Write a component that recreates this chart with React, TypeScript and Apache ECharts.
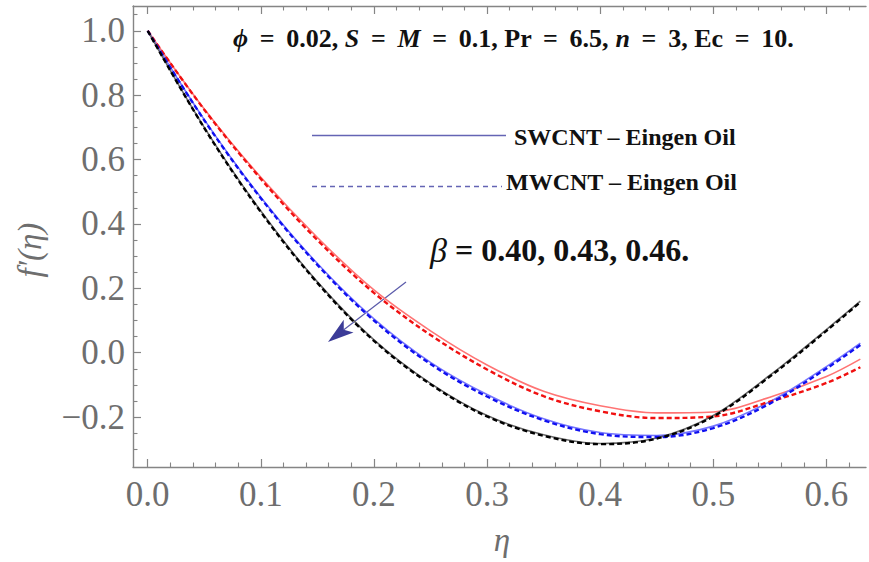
import React, { useEffect, useRef } from "react";
import * as echarts from "echarts";

// η grid (x values) shared by all curves
const etaValues = [0, 0.05, 0.1, 0.15, 0.2, 0.25, 0.3, 0.35, 0.4, 0.45, 0.5, 0.55, 0.6, 0.63];

// f'(η); β = 0.40 (red), 0.43 (blue), 0.46 (black)
const swcntBeta040 = [1, 0.757, 0.545, 0.358, 0.195, 0.068, -0.038, -0.12, -0.165, -0.187, -0.184, -0.138, -0.074, -0.02];
const mwcntBeta040 = [1, 0.755, 0.54, 0.35, 0.186, 0.055, -0.052, -0.135, -0.182, -0.203, -0.198, -0.152, -0.094, -0.045];
const swcntBeta043 = [1, 0.724, 0.483, 0.277, 0.105, -0.03, -0.13, -0.205, -0.248, -0.257, -0.228, -0.152, -0.043, 0.03];
const mwcntBeta043 = [1, 0.722, 0.48, 0.273, 0.1, -0.035, -0.136, -0.21, -0.253, -0.262, -0.234, -0.158, -0.049, 0.024];
const swcntBeta046 = [1, 0.7, 0.44, 0.22, 0.04, -0.095, -0.195, -0.255, -0.282, -0.265, -0.195, -0.07, 0.072, 0.16];
const mwcntBeta046 = [1, 0.698, 0.437, 0.217, 0.037, -0.098, -0.198, -0.258, -0.284, -0.267, -0.198, -0.074, 0.068, 0.157];

// ticks
const xMajorTicks = [0, 0.1, 0.2, 0.3, 0.4, 0.5, 0.6];
const xMinorTicks = [0.02, 0.04, 0.06, 0.08, 0.12, 0.14, 0.16, 0.18, 0.22, 0.24, 0.26, 0.28, 0.32, 0.34, 0.36, 0.38, 0.42, 0.44, 0.46, 0.48, 0.52, 0.54, 0.56, 0.58, 0.62];
const yMajorTicks = [-0.2, 0, 0.2, 0.4, 0.6, 0.8, 1.0];
const yMinorTicks = [-0.3, -0.25, -0.15, -0.1, -0.05, 0.05, 0.1, 0.15, 0.25, 0.3, 0.35, 0.45, 0.5, 0.55, 0.65, 0.7, 0.75, 0.85, 0.9, 0.95, 1.05];

const X_MIN = -0.013;
const X_MAX = 0.635;
const Y_MIN = -0.355;
const Y_MAX = 1.077;

const SERIF = "'Liberation Serif', 'Times New Roman', serif";
const AXIS_GRAY = "#858585";
const LABEL_GRAY = "#6e6e6e";

const fmt = (v: number) => {
  const s = Math.abs(v).toFixed(1);
  return v < -1e-9 ? "\u2212" + s : s;
};

function pairs(ys: number[]) {
  return etaValues.map((x, i) => [x, ys[i]]);
}

export default function App() {
  const ref = useRef<HTMLDivElement>(null);
  useEffect(() => {
    if (!ref.current) return;
    const chart = echarts.init(ref.current, undefined, { renderer: "svg" });

    const baseX = {
      type: "value" as const,
      min: X_MIN,
      max: X_MAX,
      splitLine: { show: false },
    };
    const baseY = {
      type: "value" as const,
      min: Y_MIN,
      max: Y_MAX,
      splitLine: { show: false },
    };
    const line = (show: boolean) => ({
      show,
      onZero: false,
      lineStyle: { color: AXIS_GRAY, width: 1.4 },
    });

    const solid = (name: string, ys: number[], color: string) => ({
      name,
      type: "line",
      data: pairs(ys),
      smooth: 0.35,
      showSymbol: false,
      lineStyle: { color, width: 1.6 },
      z: 2,
    });
    const dashed = (name: string, ys: number[], color: string) => ({
      name,
      type: "line",
      data: pairs(ys),
      smooth: 0.35,
      showSymbol: false,
      lineStyle: { color, width: 2.4, type: [5, 3] },
      z: 3,
    });

    const tip = [328, 342];
    const notch = [343.8, 329.8];
    const c1 = [353.5, 332.4];
    const c2 = [343.7, 319.8];

    chart.setOption({
      animation: false,
      backgroundColor: "#ffffff",
      grid: { left: 133, right: 3, top: 6, bottom: 95, containLabel: false },
      xAxis: [
        {
          ...baseX,
          position: "bottom",
          axisLine: line(true),
          axisTick: { show: true, inside: true, length: 8, customValues: xMajorTicks, lineStyle: { color: AXIS_GRAY, width: 1.2 } },
          axisLabel: {
            show: true,
            customValues: xMajorTicks,
            formatter: (v: number) => fmt(v),
            color: LABEL_GRAY,
            fontSize: 35,
            fontFamily: SERIF,
            margin: 10,
          },
        },
        {
          ...baseX,
          position: "bottom",
          axisLine: line(false),
          axisTick: { show: true, inside: true, length: 4.5, customValues: xMinorTicks, lineStyle: { color: AXIS_GRAY, width: 1.1 } },
          axisLabel: { show: false },
        },
        {
          ...baseX,
          position: "top",
          axisLine: line(true),
          axisTick: { show: true, inside: true, length: 8, customValues: xMajorTicks, lineStyle: { color: AXIS_GRAY, width: 1.2 } },
          axisLabel: { show: false },
        },
        {
          ...baseX,
          position: "top",
          axisLine: line(false),
          axisTick: { show: true, inside: true, length: 4.5, customValues: xMinorTicks, lineStyle: { color: AXIS_GRAY, width: 1.1 } },
          axisLabel: { show: false },
        },
      ],
      yAxis: [
        {
          ...baseY,
          position: "left",
          axisLine: line(true),
          axisTick: { show: true, inside: true, length: 8, customValues: yMajorTicks, lineStyle: { color: AXIS_GRAY, width: 1.2 } },
          axisLabel: {
            show: true,
            customValues: yMajorTicks,
            formatter: (v: number) => fmt(v),
            color: LABEL_GRAY,
            fontSize: 35,
            fontFamily: SERIF,
            margin: 8,
          },
        },
        {
          ...baseY,
          position: "left",
          axisLine: line(false),
          axisTick: { show: true, inside: true, length: 4.5, customValues: yMinorTicks, lineStyle: { color: AXIS_GRAY, width: 1.1 } },
          axisLabel: { show: false },
        },
      ],
      series: [
        solid("SWCNT β=0.40", swcntBeta040, "#ff7474"),
        solid("SWCNT β=0.43", swcntBeta043, "#7474ff"),
        solid("SWCNT β=0.46", swcntBeta046, "#6a6a6a"),
        dashed("MWCNT β=0.40", mwcntBeta040, "#f01010"),
        dashed("MWCNT β=0.43", mwcntBeta043, "#1010f0"),
        dashed("MWCNT β=0.46", mwcntBeta046, "#000000"),
      ],
      graphic: [
        {
          type: "text",
          left: 233,
          top: 25,
          style: {
            text: "{i|\u03d5} \u2009=\u2009 0.02, {i|S} \u2009=\u2009 {i|M} \u2009=\u2009 0.1, Pr \u2009=\u2009 6.5, {i|n} \u2009=\u2009 3, Ec \u2009=\u2009 10.",
            fontFamily: SERIF,
            fontWeight: "bold",
            fontSize: 26,
            fill: "#111",
            rich: {
              i: { fontFamily: SERIF, fontWeight: "bold", fontStyle: "italic", fontSize: 26, fill: "#111" },
            },
          },
        },
        {
          type: "line",
          shape: { x1: 312, y1: 135.5, x2: 506, y2: 135.5 },
          style: { stroke: "#6464b4", lineWidth: 1.5 },
        },
        {
          type: "text",
          left: 514,
          top: 125,
          style: { text: "SWCNT \u2013 Eingen Oil", fontFamily: SERIF, fontWeight: "bold", fontSize: 24, fill: "#111" },
        },
        {
          type: "line",
          shape: { x1: 312, y1: 186.5, x2: 502, y2: 186.5 },
          style: { stroke: "#6464b4", lineWidth: 1.5, lineDash: [5, 4] },
        },
        {
          type: "text",
          left: 506,
          top: 170,
          style: { text: "MWCNT \u2013 Eingen Oil", fontFamily: SERIF, fontWeight: "bold", fontSize: 24, fill: "#111" },
        },
        {
          type: "text",
          left: 430,
          top: 233,
          style: {
            text: "{g|\u03b2} = 0.40, 0.43, 0.46.",
            fontFamily: SERIF,
            fontWeight: "bold",
            fontSize: 32,
            fill: "#111",
            rich: {
              g: { fontFamily: SERIF, fontStyle: "italic", fontWeight: "normal", fontSize: 34, fill: "#111" },
            },
          },
        },
        {
          type: "line",
          shape: { x1: 406, y1: 282, x2: notch[0], y2: notch[1] },
          style: { stroke: "#5a5aaa", lineWidth: 1.2 },
        },
        {
          type: "polygon",
          shape: { points: [tip, c1, notch, c2] },
          style: { fill: "#3c3c98" },
        },
        {
          type: "text",
          x: 30,
          y: 250,
          rotation: Math.PI / 2,
          style: {
            text: "f\u2032(\u03b7)",
            fontFamily: SERIF,
            fontStyle: "italic",
            fontSize: 33,
            fill: LABEL_GRAY,
            align: "center",
            verticalAlign: "middle",
          },
        },
        {
          type: "text",
          x: 502,
          y: 540,
          style: {
            text: "\u03b7",
            fontFamily: SERIF,
            fontStyle: "italic",
            fontSize: 33,
            fill: LABEL_GRAY,
            align: "center",
            verticalAlign: "middle",
          },
        },
      ],
    });
    return () => chart.dispose();
  }, []);
  return <div ref={ref} style={{ position: "fixed", left: 0, top: 0, width: 869, height: 562, background: "#fff" }} />;
}
